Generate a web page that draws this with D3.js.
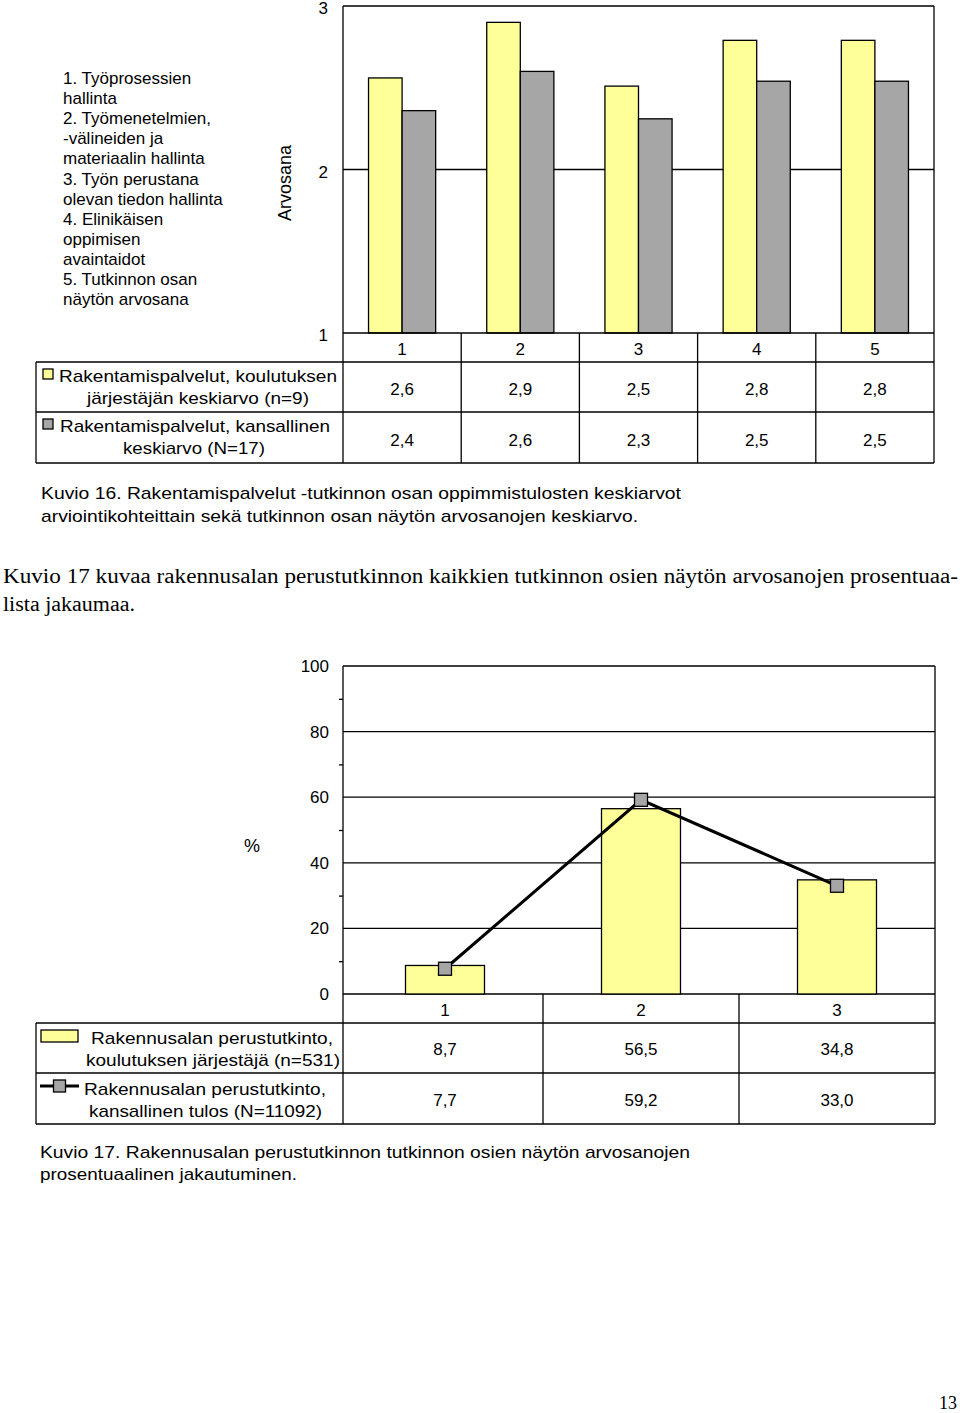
<!DOCTYPE html>
<html><head><meta charset="utf-8">
<script src="https://cdn.jsdelivr.net/npm/d3@7"></script>
<style>body{margin:0;background:#fff}svg{display:block}text{font-family:"Liberation Sans",Arial,sans-serif;fill:#000}</style>
</head><body>
<script>
// ---------- Data: chart 16 ----------
const categories1 = ["1","2","3","4","5"];
const topicLines = ["1. Työprosessien","hallinta","2. Työmenetelmien,","-välineiden ja","materiaalin hallinta","3. Työn perustana","olevan tiedon hallinta","4. Elinikäisen","oppimisen","avaintaidot","5. Tutkinnon osan","näytön arvosana"];
const series1Names = [["Rakentamispalvelut,  koulutuksen","järjestäjän keskiarvo  (n=9)"],["Rakentamispalvelut,  kansallinen","keskiarvo  (N=17)"]];
const providerAvg = [2.56, 2.90, 2.51, 2.79, 2.79];
const nationalAvg = [2.36, 2.60, 2.31, 2.54, 2.54];
const yTicks1 = [1, 2, 3];
const yLabel1 = "Arvosana";
const caption16 = ["Kuvio 16. Rakentamispalvelut  -tutkinnon  osan oppimmistulosten keskiarvot","arviointikohteittain sekä tutkinnon osan näytön arvosanojen keskiarvo."];
const paragraph = ["Kuvio 17 kuvaa rakennusalan perustutkinnon kaikkien tutkinnon osien näytön arvosanojen prosentuaa-","lista jakaumaa."];
// ---------- Data: chart 17 ----------
const categories2 = ["1","2","3"];
const series2Names = [["Rakennusalan  perustutkinto,","koulutuksen järjestäjä (n=531)"],["Rakennusalan  perustutkinto,","kansallinen tulos (N=11092)"]];
const providerPct = [8.7, 56.5, 34.8];
const nationalPct = [7.7, 59.2, 33.0];
const yTicks2 = [0, 20, 40, 60, 80, 100];
const yMinor2 = [10, 30, 50, 70, 90];
const yLabel2 = "%";
const caption17 = ["Kuvio 17. Rakennusalan  perustutkinnon tutkinnon osien näytön arvosanojen","prosentuaalinen jakautuminen."];
const pageNumber = "13";

const YELLOW = "#ffff99", GRAY = "#a6a6a6";
const fmt = v => d3.format(".1f")(v).replace(".", ",");

const svg = d3.select("body").append("svg").attr("width", 960).attr("height", 1413);
svg.append("rect").attr("width", 960).attr("height", 1413).attr("fill", "#fff");

function line(x1, y1, x2, y2, w = 1.3) {
  svg.append("line").attr("x1", x1).attr("y1", y1).attr("x2", x2).attr("y2", y2)
    .attr("stroke", "#000").attr("stroke-width", w);
}

// ================= Chart 16 =================
const L = 343, R = 934;
const y1 = d3.scaleLinear().domain([1, 3]).range([333, 6]);
const x1 = d3.scaleBand().domain(categories1).range([L, R]);
const bw1 = x1.bandwidth() * 0.284;

line(L, y1(2), R, y1(2));
const g1 = svg.append("g");
g1.selectAll(".b1").data(providerAvg).join("rect")
  .attr("x", (d, i) => x1(categories1[i]) + x1.bandwidth() / 2 - bw1)
  .attr("y", d => y1(d)).attr("width", bw1).attr("height", d => y1(1) - y1(d))
  .attr("fill", YELLOW).attr("stroke", "#000").attr("stroke-width", 1.3);
g1.selectAll(".b2").data(nationalAvg).join("rect")
  .attr("x", (d, i) => x1(categories1[i]) + x1.bandwidth() / 2)
  .attr("y", d => y1(d)).attr("width", bw1).attr("height", d => y1(1) - y1(d))
  .attr("fill", GRAY).attr("stroke", "#000").attr("stroke-width", 1.3);

const ax1 = svg.append("g").attr("transform", `translate(${L},0)`)
  .call(d3.axisLeft(y1).tickValues(yTicks1).tickSize(0).tickPadding(15).tickFormat(d3.format("d")));
ax1.select(".domain").remove();
ax1.selectAll("text").attr("font-size", 17).attr("dy", "0.45em").style("font-family", "Liberation Sans, Arial, sans-serif");

line(L, y1(3), R, y1(3)); line(R, y1(3), R, 463); line(L, y1(3), L, 463);
line(L, 333, R, 333);
line(36, 362, R, 362); line(36, 412, R, 412); line(36, 463, R, 463);
line(36, 362, 36, 463);
categories1.slice(1).forEach(c => line(x1(c), 333, x1(c), 463));

categories1.forEach((c, i) => {
  const cx = x1(c) + x1.bandwidth() / 2;
  svg.append("text").attr("x", cx).attr("y", 355).attr("text-anchor", "middle").attr("font-size", 17).text(c);
  svg.append("text").attr("x", cx).attr("y", 395).attr("text-anchor", "middle").attr("font-size", 17).text(fmt(providerAvg[i]));
  svg.append("text").attr("x", cx).attr("y", 446).attr("text-anchor", "middle").attr("font-size", 17).text(fmt(nationalAvg[i]));
});
[[YELLOW, 362], [GRAY, 412]].forEach(([col, top], k) => {
  svg.append("rect").attr("x", 43).attr("y", top + 7).attr("width", 10).attr("height", 10)
    .attr("fill", col).attr("stroke", "#000").attr("stroke-width", 1.3);
  const nm = series1Names[k];
  svg.append("text").attr("x", k === 0 ? 59 : 60).attr("y", top + 20).attr("font-size", 17)
    .attr("textLength", k === 0 ? 278 : 270).attr("lengthAdjust", "spacingAndGlyphs").text(nm[0]);
  svg.append("text").attr("x", k === 0 ? 87 : 123).attr("y", top + 42).attr("font-size", 17)
    .attr("textLength", k === 0 ? 222 : 142).attr("lengthAdjust", "spacingAndGlyphs").text(nm[1]);
});
svg.append("text").attr("transform", "translate(291,183) rotate(-90)").attr("text-anchor", "middle")
  .attr("font-size", 18).text(yLabel1);
topicLines.forEach((t, i) => {
  svg.append("text").attr("x", 63).attr("y", 84 + i * 20.1).attr("font-size", 17).text(t);
});

caption16.forEach((t, i) => {
  svg.append("text").attr("x", 41).attr("y", 499 + i * 22.5).attr("font-size", 17)
    .attr("textLength", i === 0 ? 640 : 597).attr("lengthAdjust", "spacingAndGlyphs").text(t);
});
paragraph.forEach((t, i) => {
  svg.append("text").attr("x", 3).attr("y", 583 + i * 27.5).attr("font-size", 20)
    .style("font-family", "Liberation Serif, serif")
    .attr("textLength", i === 0 ? 955 : 132).attr("lengthAdjust", "spacingAndGlyphs").text(t);
});

// ================= Chart 17 =================
const L2 = 343, R2 = 935;
const y2 = d3.scaleLinear().domain([0, 100]).range([994, 666]);
const x2 = d3.scaleBand().domain(categories2).range([347, R2]);
const bw2 = x2.bandwidth() * 0.403;
const cx2 = c => x2(c) + x2.bandwidth() / 2;

yTicks2.forEach(v => line(L2, y2(v), R2, y2(v)));
line(R2, y2(100), R2, 1124); line(L2, y2(100), L2, 1124);
const ax2 = svg.append("g").attr("transform", `translate(${L2},0)`)
  .call(d3.axisLeft(y2).tickValues(yTicks2).tickSize(0).tickPadding(14));
ax2.select(".domain").remove();
ax2.selectAll("text").attr("font-size", 17).style("font-family", "Liberation Sans, Arial, sans-serif");
const ax2m = svg.append("g").attr("transform", `translate(${L2},0)`)
  .call(d3.axisLeft(y2).tickValues(yMinor2).tickSize(4).tickFormat(""));
ax2m.select(".domain").remove();
ax2m.selectAll("line").attr("stroke-width", 1.3);

svg.append("g").selectAll("rect").data(providerPct).join("rect")
  .attr("x", (d, i) => cx2(categories2[i]) - bw2 / 2).attr("y", d => y2(d))
  .attr("width", bw2).attr("height", d => y2(0) - y2(d))
  .attr("fill", YELLOW).attr("stroke", "#000").attr("stroke-width", 1.3);

svg.append("path").datum(nationalPct)
  .attr("d", d3.line().x((d, i) => cx2(categories2[i])).y(d => y2(d)))
  .attr("fill", "none").attr("stroke", "#000").attr("stroke-width", 3);
svg.append("g").selectAll("rect").data(nationalPct).join("rect")
  .attr("x", (d, i) => cx2(categories2[i]) - 6.5).attr("y", d => y2(d) - 6.5)
  .attr("width", 13).attr("height", 13)
  .attr("fill", GRAY).attr("stroke", "#000").attr("stroke-width", 1.3);

svg.append("text").attr("x", 252).attr("y", 852).attr("text-anchor", "middle").attr("font-size", 18).text(yLabel2);

line(36, 1023, R2, 1023); line(36, 1073, R2, 1073); line(36, 1124, R2, 1124);
line(36, 1023, 36, 1124);
categories2.slice(1).forEach(c => line(x2(c), 994, x2(c), 1124));
categories2.forEach((c, i) => {
  svg.append("text").attr("x", cx2(c)).attr("y", 1016).attr("text-anchor", "middle").attr("font-size", 17).text(c);
  svg.append("text").attr("x", cx2(c)).attr("y", 1055).attr("text-anchor", "middle").attr("font-size", 17).text(fmt(providerPct[i]));
  svg.append("text").attr("x", cx2(c)).attr("y", 1106).attr("text-anchor", "middle").attr("font-size", 17).text(fmt(nationalPct[i]));
});
svg.append("rect").attr("x", 41).attr("y", 1030).attr("width", 37).attr("height", 12)
  .attr("fill", YELLOW).attr("stroke", "#000").attr("stroke-width", 1.3);
line(40, 1086, 79, 1086, 3);
svg.append("rect").attr("x", 53.5).attr("y", 1080).attr("width", 12).attr("height", 12)
  .attr("fill", GRAY).attr("stroke", "#000").attr("stroke-width", 1.3);
[[91, 1044, 242, 0, 0], [86, 1066, 254, 0, 1], [84, 1095, 242, 1, 0], [89, 1117, 233, 1, 1]].forEach(([x, y, w, k, j]) => {
  svg.append("text").attr("x", x).attr("y", y).attr("font-size", 17)
    .attr("textLength", w).attr("lengthAdjust", "spacingAndGlyphs").text(series2Names[k][j]);
});

caption17.forEach((t, i) => {
  svg.append("text").attr("x", 40).attr("y", 1158 + i * 22).attr("font-size", 17)
    .attr("textLength", i === 0 ? 650 : 257).attr("lengthAdjust", "spacingAndGlyphs").text(t);
});
svg.append("text").attr("x", 957).attr("y", 1409).attr("text-anchor", "end").attr("font-size", 18)
  .style("font-family", "Liberation Serif, serif").text(pageNumber);
</script>
</body></html>
